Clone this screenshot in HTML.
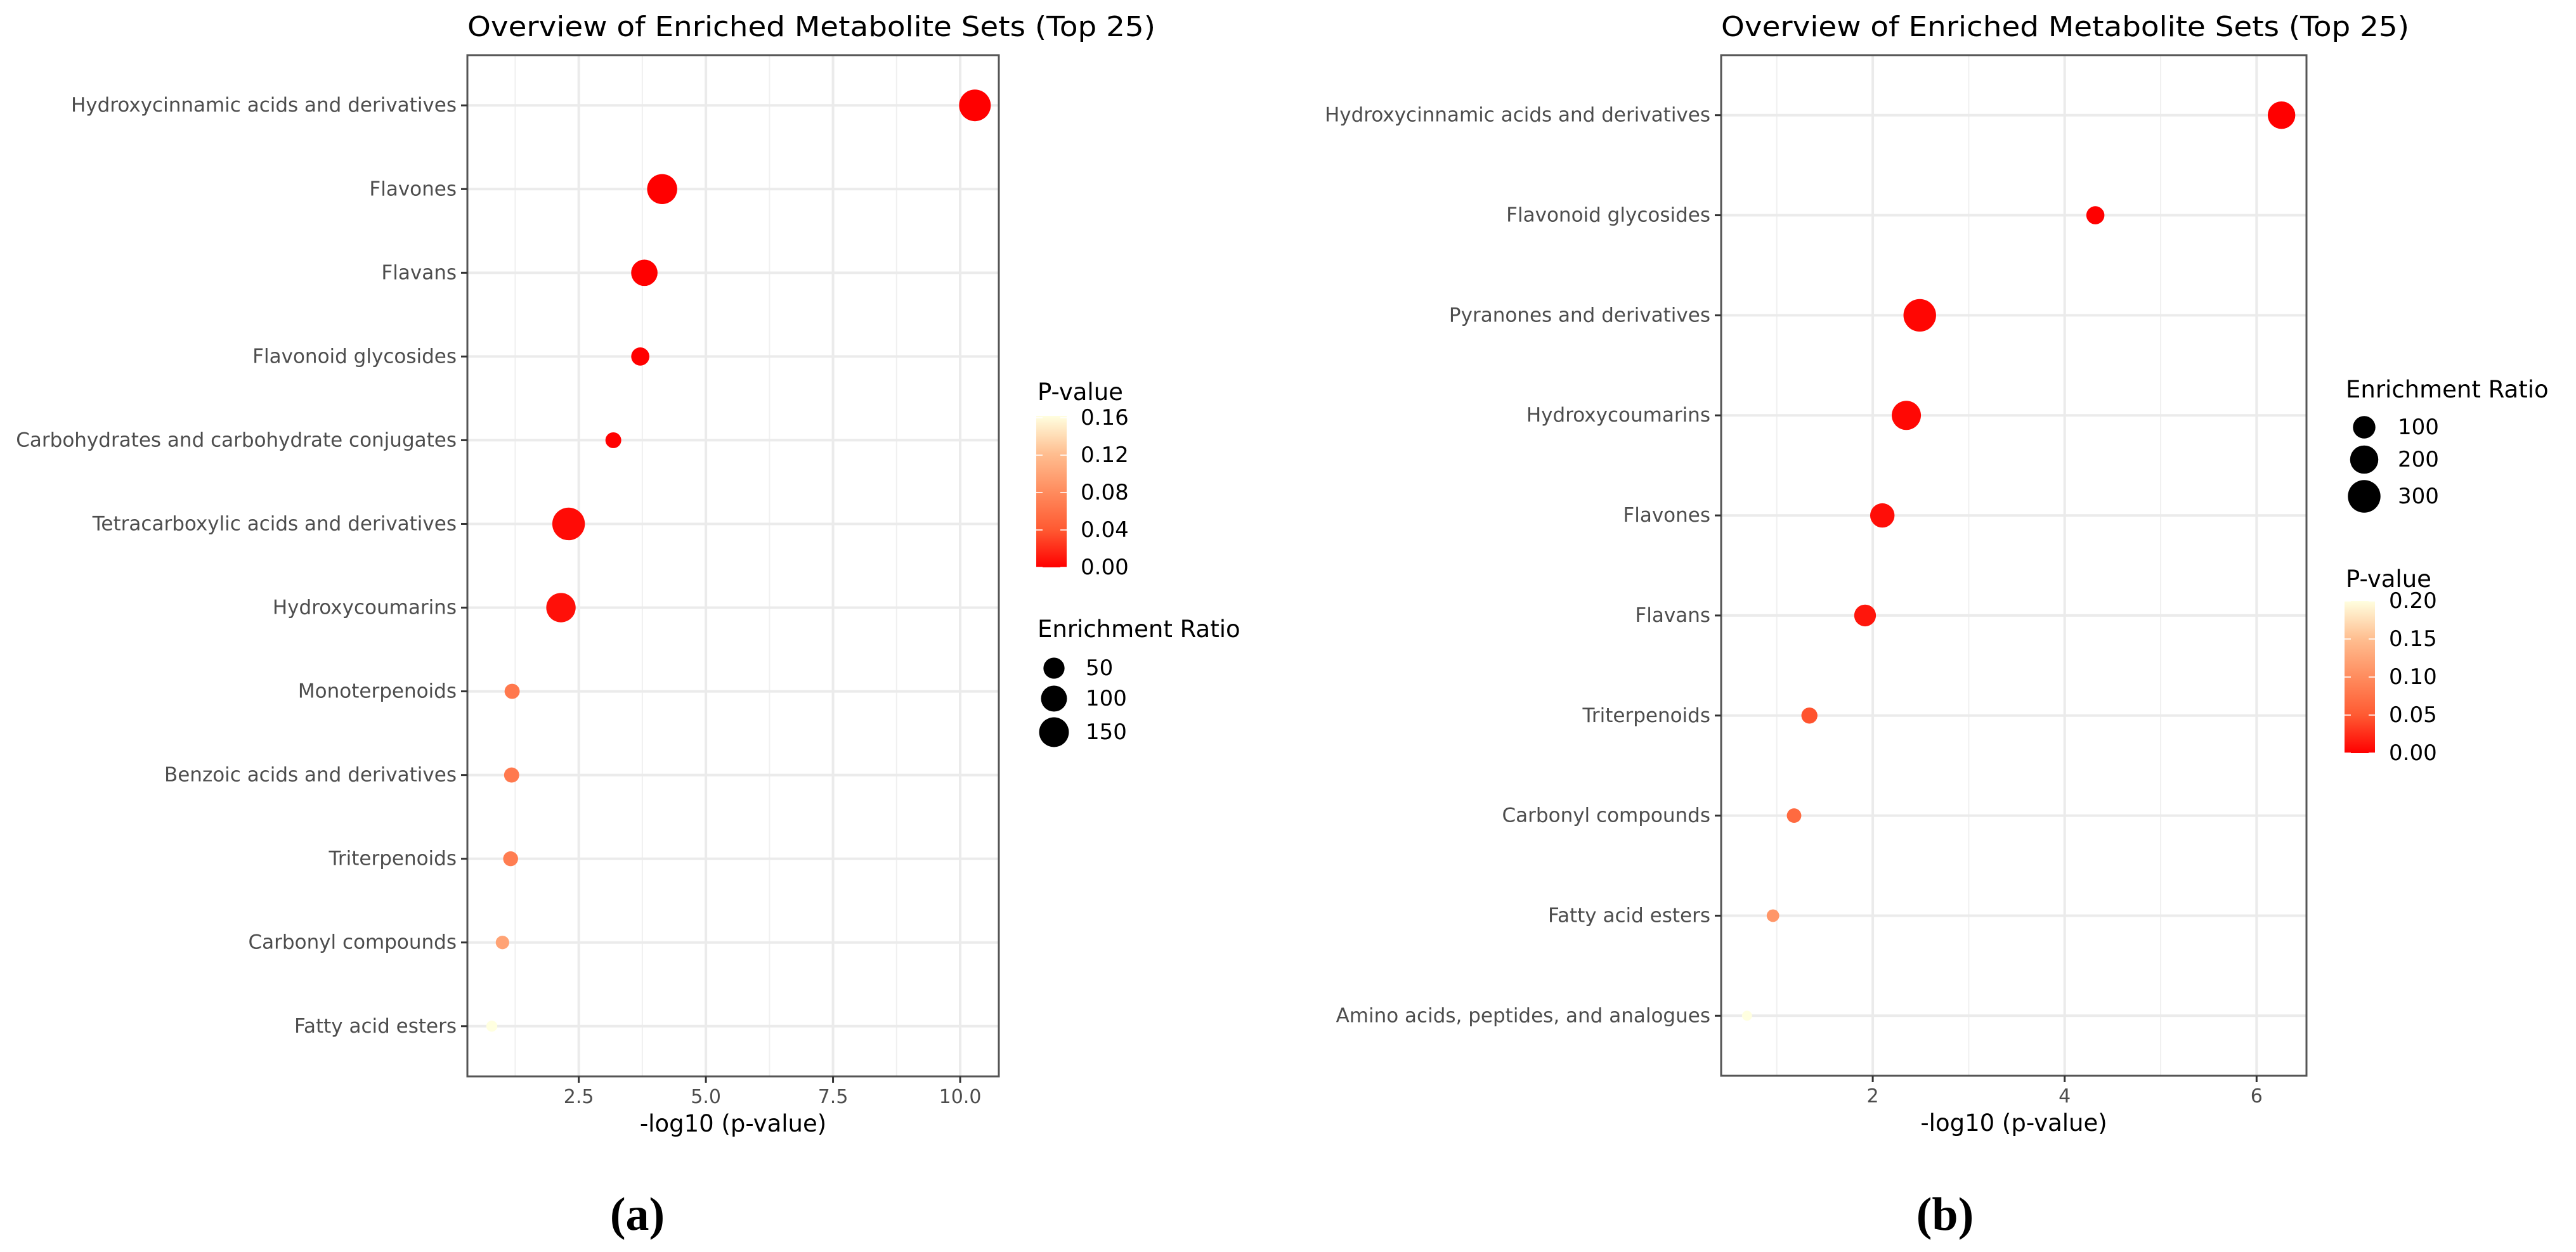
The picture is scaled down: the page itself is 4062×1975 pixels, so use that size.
<!DOCTYPE html>
<html><head><meta charset="utf-8">
<style>
html,body{margin:0;padding:0;background:#fff;}
svg{display:block;font-family:"DejaVu Sans","Liberation Sans",sans-serif;}
</style></head>
<body>
<svg id="chart" width="4062" height="1975" viewBox="0 0 4062 1975" xmlns="http://www.w3.org/2000/svg">
<defs>
<linearGradient id="pgrad" x1="0" y1="1" x2="0" y2="0">
<stop offset="0" stop-color="#FF0000"/>
<stop offset="0.25" stop-color="#FF5A32"/>
<stop offset="0.5" stop-color="#FF8C5E"/>
<stop offset="0.75" stop-color="#FFBE90"/>
<stop offset="1" stop-color="#FFFFE0"/>
</linearGradient>
</defs>
</svg>
<script>
// ---------- Panel A data ----------
const catsA = ["Hydroxycinnamic acids and derivatives","Flavones","Flavans","Flavonoid glycosides","Carbohydrates and carbohydrate conjugates","Tetracarboxylic acids and derivatives","Hydroxycoumarins","Monoterpenoids","Benzoic acids and derivatives","Triterpenoids","Carbonyl compounds","Fatty acid esters"];
const xA = [10.29,4.14,3.79,3.71,3.18,2.30,2.15,1.19,1.18,1.16,1.00,0.79];
const erA = [180,155,105,28,15,195,145,12,12,11,6,1];
const pA = [5e-11,7.2e-5,1.6e-4,1.9e-4,6.6e-4,0.0050,0.0071,0.065,0.066,0.069,0.100,0.162];
const ticksA = [2.5,5.0,7.5,10.0];
const tickLabelsA = ["2.5","5.0","7.5","10.0"];
const minorA = [1.25,3.75,6.25,8.75];
const pLegA = [0.00,0.04,0.08,0.12,0.16];
const pLegLabelsA = ["0.00","0.04","0.08","0.12","0.16"];
const erLegA = [50,100,150];
// ---------- Panel B data ----------
const catsB = ["Hydroxycinnamic acids and derivatives","Flavonoid glycosides","Pyranones and derivatives","Hydroxycoumarins","Flavones","Flavans","Triterpenoids","Carbonyl compounds","Fatty acid esters","Amino acids, peptides, and analogues"];
const xB = [6.26,4.32,2.49,2.35,2.10,1.92,1.34,1.18,0.96,0.69];
const erB = [186,47,299,220,129,90,29,18,8,1];
const pB = [5.5e-7,4.8e-5,0.0032,0.0045,0.0079,0.012,0.046,0.066,0.110,0.200];
const ticksB = [2,4,6];
const tickLabelsB = ["2","4","6"];
const minorB = [1,3,5];
const pLegB = [0.00,0.05,0.10,0.15,0.20];
const pLegLabelsB = ["0.00","0.05","0.10","0.15","0.20"];
const erLegB = [100,200,300];

const svg = document.getElementById('chart');
const NS = 'http://www.w3.org/2000/svg';
function mk(tag, attrs, parent){
  const e = document.createElementNS(NS, tag);
  for (const k in attrs) e.setAttribute(k, attrs[k]);
  (parent||svg).appendChild(e);
  return e;
}
const stops = [[0,[255,0,0]],[0.25,[255,90,50]],[0.5,[255,140,94]],[0.75,[255,190,144]],[1,[255,255,224]]];
function colorFor(t){
  t = Math.max(0, Math.min(1, t));
  for (let i=1;i<stops.length;i++){
    if (t <= stops[i][0]){
      const a = stops[i-1], b = stops[i];
      const f = (t-a[0])/(b[0]-a[0]);
      const c = a[1].map((v,j)=>Math.round(v+(b[1][j]-v)*f));
      return 'rgb('+c.join(',')+')';
    }
  }
  return 'rgb(255,255,224)';
}

function panel(cfg){
  const g = mk('g', {});
  
  
  const L=cfg.left, R=cfg.right, T=cfg.top, B=cfg.bottom;
  const xs = v => L + (v - cfg.xmin) / (cfg.xmax - cfg.xmin) * (R - L);
  const n = cfg.cats.length;
  const step = (B - T) / (n - 1 + 1.2);
  const ys = i => T + 0.6*step + i*step;
  const bg = mk('rect', {x:L, y:T, width:R-L, height:B-T, fill:'#fff'}, g);
  
  
  cfg.minor.forEach(v=>{
    const l = mk('line', {x1:xs(v), x2:xs(v), y1:T, y2:B, stroke:'#F0F0F0', 'stroke-width':2}, g);
    
    
  });
  cfg.ticks.forEach(v=>{
    const l = mk('line', {x1:xs(v), x2:xs(v), y1:T, y2:B, stroke:'#EBEBEB', 'stroke-width':4}, g);
    
    
  });
  cfg.cats.forEach((c,i)=>{
    const l = mk('line', {x1:L, x2:R, y1:ys(i), y2:ys(i), stroke:'#EBEBEB', 'stroke-width':4}, g);
    
    
  });
  cfg.cats.forEach((c,i)=>{
    const r = cfg.rA + cfg.rB*Math.sqrt(cfg.er[i]);
    const p = mk('circle', {cx:xs(cfg.x[i]), cy:ys(i), r:r, fill:colorFor(cfg.p[i]/cfg.pmax)}, g);
    
    
  });
  const br = mk('rect', {x:L, y:T, width:R-L, height:B-T, fill:'none', stroke:'#555', 'stroke-width':3}, g);
  
  
  cfg.cats.forEach((c,i)=>{
    const t = mk('line', {x1:L-10, x2:L, y1:ys(i), y2:ys(i), stroke:'#333', 'stroke-width':3}, g);
    
    
    const tx = mk('text', {x:L-17, y:ys(i), 'text-anchor':'end', 'dominant-baseline':'central', 'font-size':31, fill:'#4D4D4D'}, g);
    tx.textContent = c;
    
    
  });
  cfg.ticks.forEach((v,i)=>{
    const t = mk('line', {x1:xs(v), x2:xs(v), y1:B, y2:B+10, stroke:'#333', 'stroke-width':3}, g);
    
    
    const tx = mk('text', {x:xs(v), y:B+42, 'text-anchor':'middle', 'font-size':30, fill:'#4D4D4D'}, g);
    tx.textContent = cfg.tickLabels[i];
    
    
  });
  const at = mk('text', {x:(L+R)/2, y:B+87, 'text-anchor':'middle', 'font-size':37, fill:'#000'}, g);
  at.textContent = '-log10 (p-value)';
  
  
  const tt = mk('text', {x:L, y:57, 'font-size':44, fill:'#000', textLength:1085, lengthAdjust:'spacingAndGlyphs'}, g);
  tt.textContent = 'Overview of Enriched Metabolite Sets (Top 25)';
  
  
  const pl = mk('text', {x:cfg.labelX, y:1940, 'text-anchor':'middle', 'font-size':74, 'font-weight':'bold', 'font-family':'"Liberation Serif","DejaVu Serif",serif', fill:'#000'}, g);
  pl.textContent = cfg.label;
  
  

  const lg = mk('g', {}, g);
  
  
  const pc = cfg.pLeg;
  const pt = mk('text', {x:pc.x, y:pc.titleY, 'font-size':37, fill:'#000'}, lg);
  pt.textContent = 'P-value';
  
  
  const bar = mk('rect', {x:pc.barX, y:pc.barT, width:48, height:pc.barB-pc.barT, fill:'url(#pgrad)'}, lg);
  
  
  const py = v => pc.barB - v/cfg.pmax*(pc.barB-pc.barT);
  cfg.pLegVals.forEach((v,i)=>{
    [[pc.barX, pc.barX+10],[pc.barX+38, pc.barX+48]].forEach(s=>{
      const tk = mk('line', {x1:s[0], x2:s[1], y1:py(v), y2:py(v), stroke:'#fff', 'stroke-width':2, opacity:0.8}, lg);
      
      
    });
    const tx = mk('text', {x:pc.barX+70, y:py(v), 'dominant-baseline':'central', 'font-size':34, fill:'#000'}, lg);
    tx.textContent = cfg.pLegLabels[i];
    
    
  });
  const sl = cfg.sLeg;
  const st = mk('text', {x:sl.x, y:sl.titleY, 'font-size':37, fill:'#000'}, lg);
  st.textContent = 'Enrichment Ratio';
  
  
  cfg.erLeg.forEach((v,i)=>{
    const c = mk('circle', {cx:sl.dotX, cy:sl.ys[i], r:cfg.rA + cfg.rB*Math.sqrt(v), fill:'#000'}, lg);
    
    
    const tx = mk('text', {x:sl.labelX, y:sl.ys[i], 'dominant-baseline':'central', 'font-size':34, fill:'#000'}, lg);
    tx.textContent = String(v);
    
    
  });
}

panel({name:'panel-a', left:737, right:1575, top:87, bottom:1698, xmin:0.31, xmax:10.76,
  cats:catsA, x:xA, er:erA, p:pA, pmax:0.162, ticks:ticksA, tickLabels:tickLabelsA, minor:minorA,
  rA:7.4, rB:1.31, label:'(a)', labelX:1005,
  pLeg:{x:1636, titleY:631, barX:1634, barT:656, barB:895}, pLegVals:pLegA, pLegLabels:pLegLabelsA,
  sLeg:{x:1636, titleY:1005, dotX:1662, labelX:1712, ys:[1054,1102,1155]}, erLeg:erLegA});

panel({name:'panel-b', left:2714, right:3637, top:87, bottom:1697, xmin:0.42, xmax:6.52,
  cats:catsB, x:xB, er:erB, p:pB, pmax:0.20, ticks:ticksB, tickLabels:tickLabelsB, minor:minorB,
  rA:6.8, rB:1.093, label:'(b)', labelX:3067,
  pLeg:{x:3699, titleY:926, barX:3697, barT:948, barB:1188}, pLegVals:pLegB, pLegLabels:pLegLabelsB,
  sLeg:{x:3699, titleY:627, dotX:3728, labelX:3781, ys:[674,725,783]}, erLeg:erLegB});
</script>
</body></html>
